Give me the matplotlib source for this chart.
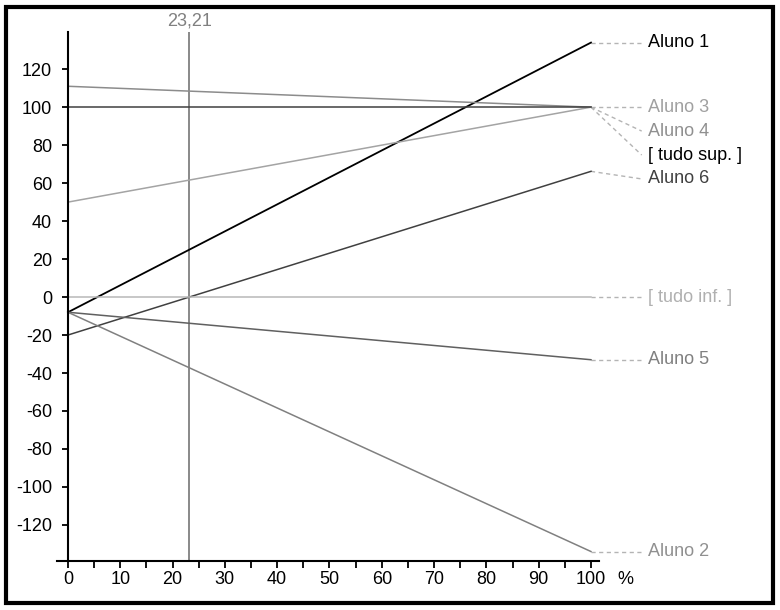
import matplotlib
matplotlib.use("Agg")
import matplotlib.pyplot as plt
from matplotlib.patches import Rectangle

plt.rcParams['font.family'] = ['Liberation Sans', 'DejaVu Sans']
plt.rcParams['font.size'] = 13
plt.rcParams['axes.unicode_minus'] = False

# series: value at 0 % and at 100 %
names = ["Aluno 1", "Aluno 3", "Aluno 4", "[ tudo sup. ]", "Aluno 6",
         "[ tudo inf. ]", "Aluno 5", "Aluno 2"]
start = [-8, 111, 50, 100, -20, 0, -8, -8]
end = [134, 100, 100, 100, 66.2, 0, -33, -134]
line_colors = ["#000000", "#8c8c8c", "#a4a4a4", "#404040", "#404040",
               "#b8b8b8", "#606060", "#808080"]
label_colors = ["#000000", "#a0a0a0", "#909090", "#000000", "#404040",
                "#b0b0b0", "#808080", "#909090"]
cursor = 23.21

fig = plt.figure(figsize=(7.8, 6.1), dpi=100)
ax = fig.add_axes([0.0737, 0.0803, 0.694, 0.867])

for s, e, c in zip(start, end, line_colors):
    lw = 1.3 if c == "#000000" else 1.1
    ax.plot([0, 100], [s, e], color=c, lw=lw, zorder=2)

# vertical cursor
ax.axvline(cursor, color="#808080", lw=1.3, zorder=1)
ax.annotate(f"{cursor:.2f}".replace(".", ","), xy=(cursor, 1.0),
            xycoords=('data', 'axes fraction'), xytext=(0, 2),
            textcoords='offset points', ha="center", va="bottom",
            color="#808080", fontsize=13, annotation_clip=False)

# spread the labels so they do not overlap
gap = 12.6
order = sorted(range(len(end)), key=lambda i: -end[i])
label_y = [0] * len(end)
prev = None
for i in order:
    y = end[i]
    if prev is not None and y > prev - gap:
        y = prev - gap
    label_y[i] = y
    prev = y

for i in range(len(names)):
    ax.plot([100, 109.7], [end[i], label_y[i]], color="#b4b4b4", lw=1,
            ls=(0, (3, 2.5)), clip_on=False, zorder=1)
    ax.text(110.9, label_y[i], names[i], color=label_colors[i], ha="left",
            va="center", clip_on=False)

ax.set_xlim(-2, 101.5)
ax.set_ylim(-139, 139.5)
ax.spines['left'].set_position(('data', 0))
ax.spines['top'].set_visible(False)
ax.spines['right'].set_visible(False)
ax.spines['left'].set_linewidth(1.5)
ax.spines['bottom'].set_linewidth(1.5)

ax.set_xticks(range(0, 101, 5))
ax.set_xticklabels([str(v) if v % 10 == 0 else "" for v in range(0, 101, 5)])
ax.set_yticks(range(-120, 121, 20))
ax.tick_params(axis='x', length=5, width=1.3, pad=2.5)
ax.tick_params(axis='y', length=4.5, width=1.3, pad=7)
ax.annotate("%", xy=(106.6, 0), xycoords=('data', 'axes fraction'),
            xytext=(0, -7.5), textcoords='offset points', ha="center", va="top",
            annotation_clip=False)

fig.patches.append(Rectangle((6 / 780, 7 / 610), 767 / 780, 596 / 610,
                             transform=fig.transFigure, fill=False,
                             edgecolor="black", lw=3))

fig.savefig("out.png", dpi=100)
